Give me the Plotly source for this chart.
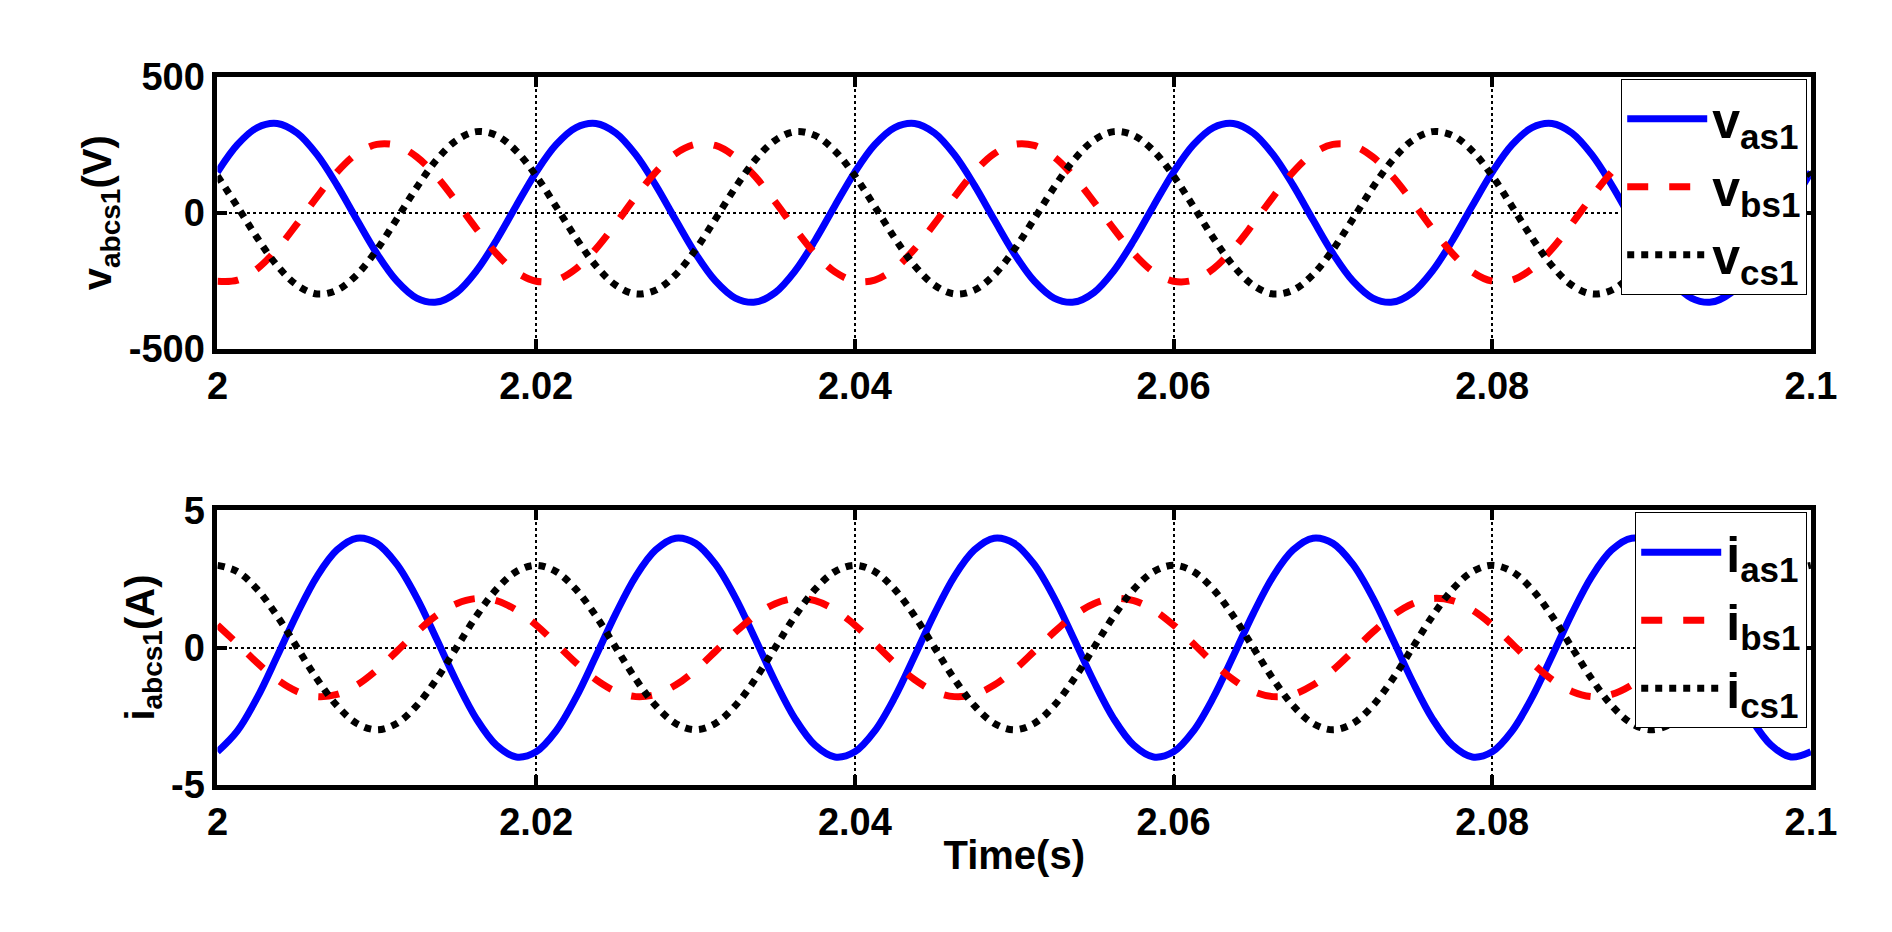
import plotly.graph_objects as go
from plotly.subplots import make_subplots

# time samples (s), every 1.25 ms over five 50 Hz cycles
t = [2 + 0.00125 * k for k in range(81)]

# one 20 ms cycle of each phase voltage (V)
v_as1_cycle = [150, 251, 314, 329, 294, 214, 102, -26, -150, -251, -314, -329, -294, -214, -102, 26]
v_bs1_cycle = [-252, -248, -206, -133, -40, 59, 150, 218, 252, 248, 206, 133, 40, -59, -150, -218]
v_cs1_cycle = [136, 23, -93, -195, -267, -299, -285, -228, -136, -23, 93, 195, 267, 299, 285, 228]

# one 20 ms cycle of each phase current (A)
i_as1_cycle = [-3.80, -3.04, -1.82, -0.31, 1.24, 2.60, 3.56, 3.99,
               3.80, 3.04, 1.82, 0.31, -1.24, -2.60, -3.56, -3.99]
i_bs1_cycle = [0.82, 0.14, -0.56, -1.17, -1.60, -1.79, -1.71, -1.37,
               -0.82, -0.14, 0.56, 1.17, 1.60, 1.79, 1.71, 1.37]
i_cs1_cycle = [3.0, 2.77, 2.12, 1.15, 0.0, -1.15, -2.12, -2.77,
               -3.0, -2.77, -2.12, -1.15, 0.0, 1.15, 2.12, 2.77]


def periodic(cycle):
    return cycle * 5 + cycle[:1]


v_as1, v_bs1, v_cs1 = periodic(v_as1_cycle), periodic(v_bs1_cycle), periodic(v_cs1_cycle)
i_as1, i_bs1, i_cs1 = periodic(i_as1_cycle), periodic(i_bs1_cycle), periodic(i_cs1_cycle)

x_ticks = [2, 2.02, 2.04, 2.06, 2.08, 2.1]
x_labels = ["2", "2.02", "2.04", "2.06", "2.08", "2.1"]

FONT = "Liberation Sans"
W = 7

fig = make_subplots(rows=2, cols=1)

styles = [("blue", "solid"), ("red", "dash"), ("black", "dot")]
for (name, y), (col, dash) in zip(
        [("v<sub>as1</sub>", v_as1), ("v<sub>bs1</sub>", v_bs1), ("v<sub>cs1</sub>", v_cs1)], styles):
    fig.add_trace(go.Scatter(x=t, y=y, mode="lines", name=name, legend="legend",
                             line=dict(color=col, dash=dash, width=W, shape="spline")), row=1, col=1)
for (name, y), (col, dash) in zip(
        [("i<sub>as1</sub>", i_as1), ("i<sub>bs1</sub>", i_bs1), ("i<sub>cs1</sub>", i_cs1)], styles):
    fig.add_trace(go.Scatter(x=t, y=y, mode="lines", name=name, legend="legend2",
                             line=dict(color=col, dash=dash, width=W, shape="spline")), row=2, col=1)

tick_font = dict(family=FONT, size=38, color="black", weight="bold")
title_font = dict(family=FONT, size=40, color="black", weight="bold")
axis_common = dict(showline=True, linecolor="black", linewidth=5, mirror="ticks",
                   ticks="inside", ticklen=10, tickwidth=4, tickcolor="black",
                   tickfont=tick_font, zeroline=False,
                   showgrid=True, gridcolor="black", griddash="dot", gridwidth=2)

fig.update_xaxes(axis_common, range=[2, 2.1], tickvals=x_ticks, ticktext=x_labels,
                 domain=[0.107, 0.966])
fig.update_yaxes(axis_common)
fig.update_yaxes(range=[-500, 500], tickvals=[-500, 0, 500], ticktext=["-500", "0", "500"],
                 domain=[0.641, 0.946], row=1, col=1)
fig.update_yaxes(range=[-5, 5], tickvals=[-5, 0, 5], ticktext=["-5", "0", "5"],
                 domain=[0.151, 0.459], row=2, col=1)
fig.update_yaxes(title=dict(text="v<sub>abcs1</sub>(V)", font=title_font, standoff=6), row=1, col=1)
fig.update_yaxes(title=dict(text="i<sub>abcs1</sub>(A)", font=title_font, standoff=6), row=2, col=1)
fig.update_xaxes(title=dict(text="Time(s)", font=title_font, standoff=0), row=2, col=1)

legend_font = dict(family=FONT, size=50, color="black", weight="bold")
fig.update_layout(
    width=1892, height=932, plot_bgcolor="white", paper_bgcolor="white",
    margin=dict(l=0, r=0, t=0, b=0),
    legend=dict(x=0.964, y=0.944, xanchor="right", yanchor="top", bgcolor="white",
                bordercolor="black", borderwidth=1, font=legend_font, tracegroupgap=0,
                itemwidth=80),
    legend2=dict(x=0.964, y=0.457, xanchor="right", yanchor="top", bgcolor="white",
                 bordercolor="black", borderwidth=1, font=legend_font, tracegroupgap=0,
                 itemwidth=80),
)

fig.write_html("out.html")
